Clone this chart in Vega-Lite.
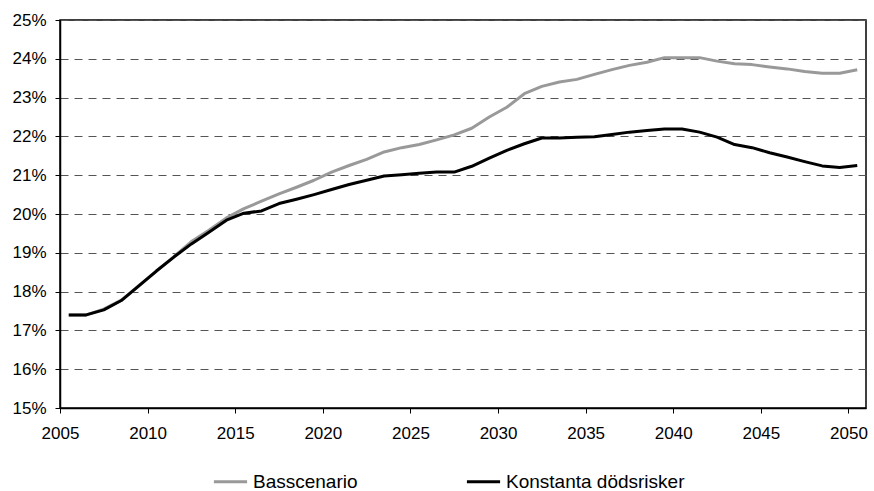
{
  "$schema": "https://vega.github.io/schema/vega-lite/v6.json",
  "width": 806,
  "height": 388,
  "autosize": {"type": "none"},
  "padding": {"left": 60, "top": 20, "right": 8, "bottom": 83},
  "background": "white",
  "config": {
    "view": {"stroke": "#000000", "strokeWidth": 1.5},
    "font": "Liberation Sans, Arial, sans-serif"
  },
  "data": {
    "values": [
      {"year": 2005, "serie": "Basscenario", "value": 0.1740},
      {"year": 2006, "serie": "Basscenario", "value": 0.1740},
      {"year": 2007, "serie": "Basscenario", "value": 0.1755},
      {"year": 2008, "serie": "Basscenario", "value": 0.1778},
      {"year": 2009, "serie": "Basscenario", "value": 0.1815},
      {"year": 2010, "serie": "Basscenario", "value": 0.1853},
      {"year": 2011, "serie": "Basscenario", "value": 0.1890},
      {"year": 2012, "serie": "Basscenario", "value": 0.1929},
      {"year": 2013, "serie": "Basscenario", "value": 0.1958},
      {"year": 2014, "serie": "Basscenario", "value": 0.1990},
      {"year": 2015, "serie": "Basscenario", "value": 0.2014},
      {"year": 2016, "serie": "Basscenario", "value": 0.2033},
      {"year": 2017, "serie": "Basscenario", "value": 0.2052},
      {"year": 2018, "serie": "Basscenario", "value": 0.2069},
      {"year": 2019, "serie": "Basscenario", "value": 0.2087},
      {"year": 2020, "serie": "Basscenario", "value": 0.2108},
      {"year": 2021, "serie": "Basscenario", "value": 0.2125},
      {"year": 2022, "serie": "Basscenario", "value": 0.2141},
      {"year": 2023, "serie": "Basscenario", "value": 0.2160},
      {"year": 2024, "serie": "Basscenario", "value": 0.2171},
      {"year": 2025, "serie": "Basscenario", "value": 0.2179},
      {"year": 2026, "serie": "Basscenario", "value": 0.2191},
      {"year": 2027, "serie": "Basscenario", "value": 0.2204},
      {"year": 2028, "serie": "Basscenario", "value": 0.2221},
      {"year": 2029, "serie": "Basscenario", "value": 0.2250},
      {"year": 2030, "serie": "Basscenario", "value": 0.2275},
      {"year": 2031, "serie": "Basscenario", "value": 0.2310},
      {"year": 2032, "serie": "Basscenario", "value": 0.2329},
      {"year": 2033, "serie": "Basscenario", "value": 0.2340},
      {"year": 2034, "serie": "Basscenario", "value": 0.2347},
      {"year": 2035, "serie": "Basscenario", "value": 0.2360},
      {"year": 2036, "serie": "Basscenario", "value": 0.2372},
      {"year": 2037, "serie": "Basscenario", "value": 0.2383},
      {"year": 2038, "serie": "Basscenario", "value": 0.2391},
      {"year": 2039, "serie": "Basscenario", "value": 0.2403},
      {"year": 2040, "serie": "Basscenario", "value": 0.2403},
      {"year": 2041, "serie": "Basscenario", "value": 0.2403},
      {"year": 2042, "serie": "Basscenario", "value": 0.2394},
      {"year": 2043, "serie": "Basscenario", "value": 0.2387},
      {"year": 2044, "serie": "Basscenario", "value": 0.2385},
      {"year": 2045, "serie": "Basscenario", "value": 0.2379},
      {"year": 2046, "serie": "Basscenario", "value": 0.2374},
      {"year": 2047, "serie": "Basscenario", "value": 0.2367},
      {"year": 2048, "serie": "Basscenario", "value": 0.2363},
      {"year": 2049, "serie": "Basscenario", "value": 0.2363},
      {"year": 2050, "serie": "Basscenario", "value": 0.2372},
      {"year": 2005, "serie": "Konstanta dödsrisker", "value": 0.1740},
      {"year": 2006, "serie": "Konstanta dödsrisker", "value": 0.1740},
      {"year": 2007, "serie": "Konstanta dödsrisker", "value": 0.1753},
      {"year": 2008, "serie": "Konstanta dödsrisker", "value": 0.1777},
      {"year": 2009, "serie": "Konstanta dödsrisker", "value": 0.1815},
      {"year": 2010, "serie": "Konstanta dödsrisker", "value": 0.1853},
      {"year": 2011, "serie": "Konstanta dödsrisker", "value": 0.1889},
      {"year": 2012, "serie": "Konstanta dödsrisker", "value": 0.1923},
      {"year": 2013, "serie": "Konstanta dödsrisker", "value": 0.1953},
      {"year": 2014, "serie": "Konstanta dödsrisker", "value": 0.1984},
      {"year": 2015, "serie": "Konstanta dödsrisker", "value": 0.2002},
      {"year": 2016, "serie": "Konstanta dödsrisker", "value": 0.2008},
      {"year": 2017, "serie": "Konstanta dödsrisker", "value": 0.2027},
      {"year": 2018, "serie": "Konstanta dödsrisker", "value": 0.2038},
      {"year": 2019, "serie": "Konstanta dödsrisker", "value": 0.2050},
      {"year": 2020, "serie": "Konstanta dödsrisker", "value": 0.2063},
      {"year": 2021, "serie": "Konstanta dödsrisker", "value": 0.2076},
      {"year": 2022, "serie": "Konstanta dödsrisker", "value": 0.2087},
      {"year": 2023, "serie": "Konstanta dödsrisker", "value": 0.2098},
      {"year": 2024, "serie": "Konstanta dödsrisker", "value": 0.2101},
      {"year": 2025, "serie": "Konstanta dödsrisker", "value": 0.2105},
      {"year": 2026, "serie": "Konstanta dödsrisker", "value": 0.2108},
      {"year": 2027, "serie": "Konstanta dödsrisker", "value": 0.2108},
      {"year": 2028, "serie": "Konstanta dödsrisker", "value": 0.2123},
      {"year": 2029, "serie": "Konstanta dödsrisker", "value": 0.2144},
      {"year": 2030, "serie": "Konstanta dödsrisker", "value": 0.2164},
      {"year": 2031, "serie": "Konstanta dödsrisker", "value": 0.2181},
      {"year": 2032, "serie": "Konstanta dödsrisker", "value": 0.2196},
      {"year": 2033, "serie": "Konstanta dödsrisker", "value": 0.2196},
      {"year": 2034, "serie": "Konstanta dödsrisker", "value": 0.2198},
      {"year": 2035, "serie": "Konstanta dödsrisker", "value": 0.2199},
      {"year": 2036, "serie": "Konstanta dödsrisker", "value": 0.2205},
      {"year": 2037, "serie": "Konstanta dödsrisker", "value": 0.2211},
      {"year": 2038, "serie": "Konstanta dödsrisker", "value": 0.2215},
      {"year": 2039, "serie": "Konstanta dödsrisker", "value": 0.2219},
      {"year": 2040, "serie": "Konstanta dödsrisker", "value": 0.2219},
      {"year": 2041, "serie": "Konstanta dödsrisker", "value": 0.2211},
      {"year": 2042, "serie": "Konstanta dödsrisker", "value": 0.2198},
      {"year": 2043, "serie": "Konstanta dödsrisker", "value": 0.2179},
      {"year": 2044, "serie": "Konstanta dödsrisker", "value": 0.2171},
      {"year": 2045, "serie": "Konstanta dödsrisker", "value": 0.2158},
      {"year": 2046, "serie": "Konstanta dödsrisker", "value": 0.2147},
      {"year": 2047, "serie": "Konstanta dödsrisker", "value": 0.2135},
      {"year": 2048, "serie": "Konstanta dödsrisker", "value": 0.2124},
      {"year": 2049, "serie": "Konstanta dödsrisker", "value": 0.2120},
      {"year": 2050, "serie": "Konstanta dödsrisker", "value": 0.2125}
    ]
  },
  "mark": {"type": "line", "strokeWidth": 3, "strokeJoin": "round", "clip": true},
  "encoding": {
    "x": {
      "field": "year",
      "type": "quantitative",
      "scale": {"domain": [2004.5, 2050.5], "nice": false, "zero": false},
      "axis": {
        "title": null,
        "values": [2004.5, 2009.5, 2014.5, 2019.5, 2024.5, 2029.5, 2034.5, 2039.5, 2044.5, 2049.5],
        "labelExpr": "format(datum.value + 0.5, 'd')",
        "grid": false,
        "domainColor": "#000000",
        "domainWidth": 1.5,
        "tickColor": "#000000",
        "tickSize": 5,
        "tickWidth": 1,
        "labelColor": "#000000",
        "labelFont": "Liberation Sans, Arial, sans-serif",
        "labelFontSize": 17,
        "labelPadding": 12,
        "labelFlush": false
      }
    },
    "y": {
      "field": "value",
      "type": "quantitative",
      "scale": {"domain": [0.15, 0.25], "nice": false, "zero": false},
      "axis": {
        "title": null,
        "values": [0.15, 0.16, 0.17, 0.18, 0.19, 0.20, 0.21, 0.22, 0.23, 0.24, 0.25],
        "format": ".0%",
        "grid": true,
        "gridColor": "#555555",
        "gridDash": [8, 6],
        "gridWidth": 1,
        "domainColor": "#000000",
        "domainWidth": 1.5,
        "tickColor": "#000000",
        "tickSize": 5,
        "tickWidth": 1,
        "labelColor": "#000000",
        "labelFont": "Liberation Sans, Arial, sans-serif",
        "labelFontSize": 17,
        "labelPadding": 9
      }
    },
    "color": {
      "field": "serie",
      "type": "nominal",
      "scale": {"domain": ["Basscenario", "Konstanta dödsrisker"], "range": ["#999999", "#000000"]},
      "legend": {
        "title": null,
        "orient": "none",
        "legendX": 152,
        "legendY": 443,
        "direction": "horizontal",
        "symbolType": "stroke",
        "symbolSize": 1100,
        "symbolStrokeWidth": 3,
        "labelFont": "Liberation Sans, Arial, sans-serif",
        "labelFontSize": 19,
        "labelColor": "#000000",
        "labelOffset": 4,
        "labelLimit": 300,
        "columnPadding": 102
      }
    }
  }
}
